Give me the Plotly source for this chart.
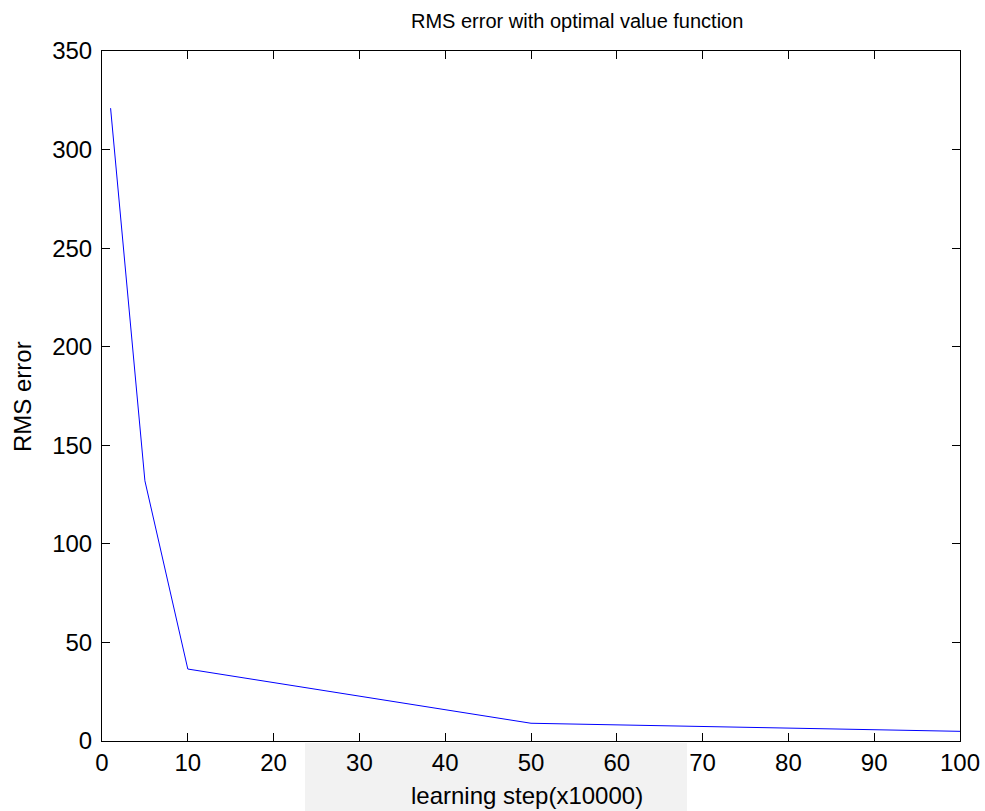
import plotly.graph_objects as go

# Data
steps = [1, 5, 10, 50, 100]
rms_error = [321, 132, 36.5, 9, 4.9]
x_ticks = list(range(0, 101, 10))
y_ticks = list(range(0, 351, 50))

title_text = "RMS error with optimal value function"
x_label = "learning step(x10000)"
y_label = "RMS error"

W, H = 985, 811
L, R, T, B = 102, 25, 51, 70
PW, PH = W - L - R, H - T - B

def px(xp):
    return (xp - L) / PW

def py(yp):
    return (H - B - yp) / PH

FONT = "Liberation Sans, Arial, Helvetica, sans-serif"

fig = go.Figure()
fig.add_trace(go.Scatter(
    x=steps, y=rms_error, mode="lines",
    line=dict(color="#0000ff", width=1),
    showlegend=False, hoverinfo="x+y",
))

axis_common = dict(
    showline=True, linecolor="black", linewidth=1, mirror="ticks",
    ticks="inside", ticklen=8, tickcolor="black", tickwidth=1,
    showgrid=False, zeroline=False, automargin=False,
    tickfont=dict(family=FONT, size=24, color="black"),
)

fig.update_layout(
    width=W, height=H,
    margin=dict(l=L, r=R, t=T, b=B, pad=0, autoexpand=False),
    paper_bgcolor="white", plot_bgcolor="white",
    xaxis=dict(range=[0, 100], tickvals=x_ticks, **axis_common),
    yaxis=dict(range=[0, 350], tickvals=y_ticks, ticklabelstandoff=4, **axis_common),
    shapes=[dict(
        type="rect", xref="paper", yref="paper",
        x0=px(305), x1=px(687), y0=py(743), y1=py(811),
        fillcolor="#f2f2f2", line=dict(width=0), layer="below",
    )],
    annotations=[
        dict(text=title_text, xref="paper", yref="paper",
             x=px(577), y=py(21), xanchor="center", yanchor="middle",
             showarrow=False, font=dict(family=FONT, size=20, color="black")),
        dict(text=x_label, xref="paper", yref="paper",
             x=px(527), y=py(795), xanchor="center", yanchor="middle",
             showarrow=False, font=dict(family=FONT, size=24, color="black")),
        dict(text=y_label, xref="paper", yref="paper",
             x=px(23), y=py(397), xanchor="center", yanchor="middle",
             textangle=-90,
             showarrow=False, font=dict(family=FONT, size=24, color="black")),
    ],
)

fig.write_html("out.html")
